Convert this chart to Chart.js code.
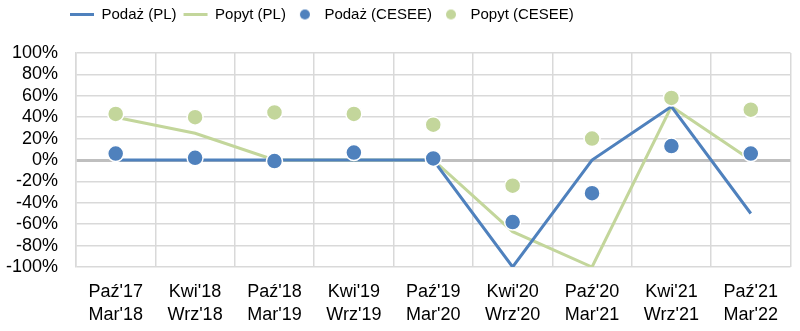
<!DOCTYPE html>
<html>
<head>
<meta charset="utf-8">
<script src="https://cdn.jsdelivr.net/npm/chart.js@4/dist/chart.umd.min.js"></script>
<style>
  html, body { margin: 0; padding: 0; background: #fff; }
  #wrap { width: 800px; height: 331px; position: relative; }
</style>
</head>
<body>
<div id="wrap"><canvas id="chart"></canvas></div>
<script>
// half-year periods
const periods = [
  ["Paź'17", "Mar'18"], ["Kwi'18", "Wrz'18"], ["Paź'18", "Mar'19"],
  ["Kwi'19", "Wrz'19"], ["Paź'19", "Mar'20"], ["Kwi'20", "Wrz'20"],
  ["Paź'20", "Mar'21"], ["Kwi'21", "Wrz'21"], ["Paź'21", "Mar'22"]
];

// values in %
const supplyPL = [0, 0, 0, 0, 0, -100, 0, 50, -50];
const demandPL = [40, 25, 0, 0, 0, -67, -100, 50, 0];
const supplyCESEE = [6, 2, -1, 7, 1.5, -58, -31, 13, 6];
const demandCESEE = [43, 40, 44.5, 43, 33, -24, 20, 58, 47];

const BLUE = '#4f81bd';
const GREEN = '#c3d69b';
const GRID = '#d9d9d9';

const tickFont = { family: 'Liberation Sans, Arial, sans-serif', size: 18 };

// small round icon for the dot series in the legend (keeps it round with pointStyleWidth)
function dotIcon(color) {
  const c = document.createElement('canvas');
  c.width = 12;
  c.height = 12;
  const g = c.getContext('2d');
  g.fillStyle = color;
  g.beginPath();
  g.arc(6, 6, 5, 0, Math.PI * 2);
  g.fill();
  return c;
}
const legendDots = { 2: dotIcon(BLUE), 3: dotIcon(GREEN) };

// taller legend strip; legend row pushed in from the left (align 'end' + wide row)
const legendTweaks = {
  id: 'legendTweaks',
  afterInit(chart) {
    const lg = chart.legend;
    if (!lg) return;
    const fit = lg.fit;
    lg.fit = function () {
      fit.call(this);
      this.height = 53;
      if (this.lineWidths && this.lineWidths.length) {
        this.lineWidths[0] = this.width - 70;
      }
    };
  }
};

new Chart(document.getElementById('chart'), {
  type: 'line',
  data: {
    labels: periods,
    datasets: [
      {
        label: 'Podaż (PL)',
        data: supplyPL,
        borderColor: BLUE,
        backgroundColor: BLUE,
        borderWidth: 3,
        pointRadius: 0,
        pointHoverRadius: 0,
        pointStyle: 'line',
        pointBorderWidth: 3,
        order: 3
      },
      {
        label: 'Popyt (PL)',
        data: demandPL,
        borderColor: GREEN,
        backgroundColor: GREEN,
        borderWidth: 3,
        pointRadius: 0,
        pointHoverRadius: 0,
        pointStyle: 'line',
        pointBorderWidth: 3,
        order: 4
      },
      {
        label: 'Podaż (CESEE)',
        data: supplyCESEE,
        showLine: false,
        pointStyle: 'circle',
        pointRadius: 8,
        pointBackgroundColor: BLUE,
        pointBorderColor: '#ffffff',
        pointBorderWidth: 1.5,
        order: 1
      },
      {
        label: 'Popyt (CESEE)',
        data: demandCESEE,
        showLine: false,
        pointStyle: 'circle',
        pointRadius: 8,
        pointBackgroundColor: GREEN,
        pointBorderColor: '#ffffff',
        pointBorderWidth: 1.5,
        order: 2
      }
    ]
  },
  options: {
    responsive: true,
    maintainAspectRatio: false,
    animation: false,
    layout: { padding: { top: 0, right: 2, left: 0, bottom: 0 } },
    plugins: {
      legend: {
        position: 'top',
        align: 'end',
        labels: {
          usePointStyle: true,
          pointStyleWidth: 24,
          boxHeight: 7,
          padding: 7,
          color: '#000',
          font: { family: 'Liberation Sans, Arial, sans-serif', size: 15 },
          sort: (a, b) => a.datasetIndex - b.datasetIndex,
          generateLabels(chart) {
            const items = Chart.defaults.plugins.legend.labels.generateLabels(chart);
            items.forEach(it => {
              if (legendDots[it.datasetIndex]) it.pointStyle = legendDots[it.datasetIndex];
            });
            return items;
          }
        }
      },
      tooltip: { enabled: false }
    },
    scales: {
      x: {
        offset: true,
        grid: {
          offset: true,
          color: GRID,
          lineWidth: 1.5,
          drawTicks: false
        },
        border: { display: false },
        ticks: {
          color: '#000',
          font: { ...tickFont, lineHeight: 1.25 },
          padding: 14,
          maxRotation: 0,
          autoSkip: false
        },
        afterFit: scale => { scale.height = 64; }
      },
      y: {
        min: -100,
        max: 100,
        grid: {
          color: ctx => ctx.tick && ctx.tick.value === 0 ? '#bfbfbf' : GRID,
          lineWidth: ctx => ctx.tick && ctx.tick.value === 0 ? 3 : 1.5,
          drawTicks: false
        },
        border: { display: true, color: GRID, width: 1.5 },
        ticks: {
          stepSize: 20,
          autoSkip: false,
          color: '#000',
          font: tickFont,
          padding: 18,
          callback: v => v + '%'
        },
        afterFit: scale => { scale.width = 76; }
      }
    }
  },
  plugins: [legendTweaks]
});
</script>
</body>
</html>
